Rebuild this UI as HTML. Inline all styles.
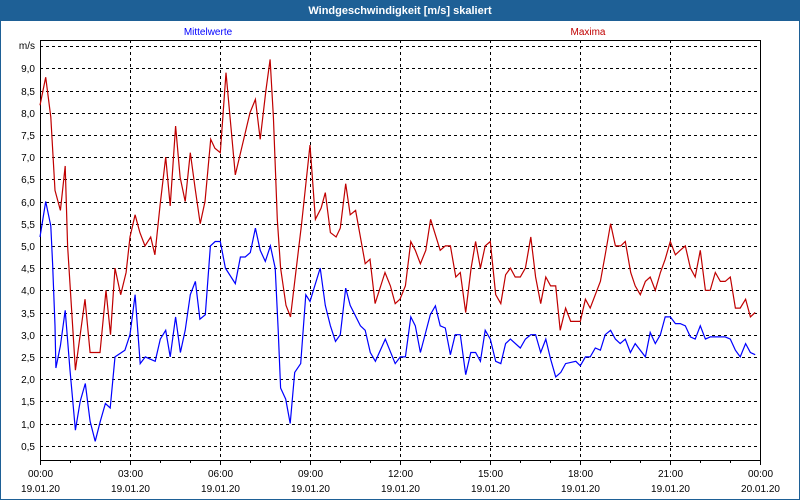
<!DOCTYPE html>
<html><head><meta charset="utf-8"><style>
html,body{margin:0;padding:0;background:#fff}
#wrap{position:relative;width:800px;height:500px;overflow:hidden;font-family:"Liberation Sans",sans-serif}
</style></head><body>
<div id="wrap">
<svg id="chart" width="800" height="500" xmlns="http://www.w3.org/2000/svg"></svg>
</div>
<script>
const tickValues=[0.5,1,1.5,2,2.5,3,3.5,4,4.5,5,5.5,6,6.5,7,7.5,8,8.5,9];
const xTickHours=[0,3,6,9,12,15,18,21,24];
const xTimeLabels=["00:00","03:00","06:00","09:00","12:00","15:00","18:00","21:00","00:00"];
const xDateLabels=["19.01.20","19.01.20","19.01.20","19.01.20","19.01.20","19.01.20","19.01.20","19.01.20","20.01.20"];
const maxHours=[0,0.19,0.36,0.5,0.68,0.84,0.92,1.18,1.5,1.67,2.0,2.2,2.35,2.5,2.69,2.87,3.0,3.17,3.33,3.5,3.69,3.83,4.0,4.19,4.34,4.52,4.67,4.84,5.01,5.17,5.34,5.5,5.69,5.83,6.01,6.2,6.51,7.0,7.18,7.34,7.53,7.67,7.78,7.91,8.02,8.2,8.35,8.72,9.0,9.18,9.37,9.51,9.68,9.87,10.01,10.19,10.34,10.52,10.84,11.0,11.17,11.5,11.68,11.84,12.0,12.18,12.36,12.51,12.68,12.86,13.02,13.34,13.51,13.68,13.86,14.01,14.19,14.37,14.52,14.68,14.84,15.01,15.19,15.36,15.52,15.68,15.84,16.01,16.18,16.36,16.52,16.69,16.86,17.02,17.19,17.34,17.52,17.69,18.01,18.18,18.34,18.68,18.84,19.02,19.18,19.36,19.51,19.69,19.84,20.01,20.18,20.34,20.51,20.68,20.84,21.01,21.18,21.34,21.51,21.68,21.84,22.01,22.18,22.34,22.51,22.68,22.84,23.01,23.18,23.34,23.52,23.68,23.84];
const maxValues=[8.17,8.8,7.9,6.25,5.8,6.8,5.0,2.2,3.8,2.6,2.6,4.0,3.0,4.5,3.9,4.4,5.2,5.7,5.3,5.0,5.2,4.8,5.9,7.0,5.9,7.7,6.55,6.0,7.1,6.3,5.5,6.0,7.4,7.2,7.1,8.9,6.6,8.0,8.3,7.4,8.5,9.2,7.9,5.6,4.5,3.66,3.4,5.5,7.27,5.6,5.85,6.2,5.3,5.2,5.4,6.4,5.7,5.8,4.6,4.7,3.7,4.4,4.1,3.7,3.8,4.1,5.1,4.9,4.6,4.9,5.6,4.9,5.0,5.0,4.3,4.4,3.5,4.5,5.1,4.5,5.0,5.1,3.9,3.7,4.35,4.5,4.3,4.3,4.5,5.2,4.3,3.7,4.3,4.1,4.1,3.1,3.6,3.3,3.3,3.8,3.6,4.2,4.8,5.5,5.0,5.0,5.1,4.4,4.1,3.9,4.2,4.3,4.0,4.4,4.7,5.1,4.8,4.9,5.0,4.5,4.3,4.9,4.0,4.0,4.4,4.2,4.2,4.3,3.6,3.6,3.8,3.4,3.5];
const meanHours=[0,0.19,0.36,0.42,0.5,0.53,0.68,0.84,1.0,1.18,1.34,1.51,1.67,1.84,2.01,2.18,2.34,2.5,2.83,3.0,3.17,3.34,3.51,3.67,3.84,4.01,4.19,4.34,4.52,4.68,4.84,5.01,5.18,5.33,5.51,5.68,5.84,6.01,6.18,6.51,6.68,6.84,7.01,7.18,7.34,7.51,7.68,7.84,7.94,8.02,8.19,8.34,8.49,8.69,8.86,9.0,9.34,9.51,9.68,9.85,10.01,10.19,10.34,10.68,10.84,11.01,11.18,11.51,11.84,12.01,12.18,12.36,12.51,12.68,13.01,13.18,13.34,13.51,13.68,13.84,14.01,14.19,14.36,14.52,14.68,14.84,15.01,15.19,15.36,15.52,15.68,16.01,16.18,16.36,16.52,16.69,16.86,17.02,17.19,17.36,17.52,17.86,18.01,18.18,18.34,18.51,18.68,18.84,19.02,19.18,19.34,19.51,19.68,19.84,20.18,20.34,20.51,20.68,20.84,21.01,21.18,21.34,21.51,21.68,21.84,22.01,22.18,22.34,22.51,22.68,22.84,23.01,23.18,23.34,23.52,23.68,23.84];
const meanValues=[5.2,6.0,5.45,4.6,3.2,2.25,2.75,3.55,2.2,0.85,1.5,1.9,1.05,0.6,1.05,1.45,1.35,2.5,2.65,3.0,3.9,2.35,2.5,2.45,2.4,2.9,3.1,2.5,3.4,2.6,3.1,3.9,4.2,3.35,3.45,5.0,5.1,5.1,4.5,4.15,4.75,4.75,4.85,5.4,4.9,4.65,5.0,4.5,3.1,1.8,1.55,1.0,2.15,2.35,3.9,3.75,4.5,3.66,3.2,2.85,3.0,4.05,3.66,3.2,3.1,2.6,2.4,2.9,2.35,2.5,2.5,3.4,3.2,2.6,3.45,3.65,3.2,3.15,2.55,3.0,3.0,2.1,2.6,2.6,2.4,3.1,2.9,2.4,2.35,2.8,2.9,2.7,2.9,3.0,3.0,2.6,2.9,2.45,2.05,2.15,2.35,2.4,2.3,2.5,2.5,2.7,2.65,3.0,3.1,2.9,2.8,2.9,2.6,2.8,2.5,3.05,2.8,3.0,3.4,3.4,3.25,3.25,3.2,2.95,2.9,3.2,2.9,2.95,2.95,2.95,2.95,2.9,2.65,2.5,2.8,2.6,2.55];

const NS="http://www.w3.org/2000/svg";
const svg=document.getElementById('chart');
const L=40,R=760,T=40,B=460;
function xs(h){return L+(h/24)*(R-L);}
function ys(v){return 68.3+(9-v)*44.4;}
function mk(tag,attrs,parent){const e=document.createElementNS(NS,tag);for(const k in attrs)e.setAttribute(k,attrs[k]);(parent||svg).appendChild(e);return e;}
function txt(s,x,y,anchor,fill,size,weight){const t=mk('text',{x:x,y:y,'text-anchor':anchor,fill:fill,'font-size':size||11,'font-family':'Liberation Sans, sans-serif'});if(weight)t.setAttribute('font-weight',weight);t.textContent=s;return t;}

// frame
let e=mk('rect',{x:0.5,y:0.5,width:799,height:499,fill:'#fff',stroke:'#1e6096','stroke-width':1});


e=mk('rect',{x:0,y:0,width:800,height:21,fill:'#1e6096'});


e=txt('Windgeschwindigkeit [m/s] skaliert',400,14,'middle','#fff',11,'bold');


e=txt('Mittelwerte',208,35,'middle','#0000ff',10);


e=txt('Maxima',588,35,'middle','#c00000',10);



// horizontal grid
const gh=tickValues.concat([9.5]);
gh.forEach(v=>{
  const y=Math.round(ys(v))+0.5;
  const g=mk('line',{x1:L,x2:R,y1:y,y2:y,stroke:'#000','stroke-width':1,'stroke-dasharray':'3,3'});
  
  
});
tickValues.forEach(v=>{
  const t=txt(v.toFixed(1).replace('.',','),35,Math.round(ys(v))+4,'end','#000',10);
  
  
});
e=txt('m/s',35,49,'end','#000',10);



// vertical grid and ticks
xTickHours.forEach((h,i)=>{
  const x=Math.round(xs(h))+0.5;
  if(i>0&&i<xTickHours.length-1){
    const g=mk('line',{x1:x,x2:x,y1:T,y2:B,stroke:'#000','stroke-width':1,'stroke-dasharray':'3,3'});
    
    
  }
  const t1=txt(xTimeLabels[i],x,477,'middle','#000',10);
  
  
  const t2=txt(xDateLabels[i],x,492,'middle','#000',10);
  
  
});
for(let h=0;h<=24;h++){
  const x=Math.round(xs(h))+0.5;
  const tk=mk('line',{x1:x,x2:x,y1:B,y2:B+(h%3===0?5:3),stroke:'#000','stroke-width':1});
  
  
}
e=mk('rect',{x:L+0.5,y:T+0.5,width:R-L,height:B-T,fill:'none',stroke:'#000','stroke-width':1});



function series(hours,vals,color,name){
  const pts=hours.map((h,i)=>xs(h).toFixed(1)+','+ys(vals[i]).toFixed(1)).join(' ');
  const p=mk('polyline',{points:pts,fill:'none',stroke:color,'stroke-width':1.2,'stroke-linejoin':'miter'});
  
  
}
series(maxHours,maxValues,'#c00000','maxima-line');
series(meanHours,meanValues,'#0000ff','mittelwerte-line');
</script>
</body></html>
